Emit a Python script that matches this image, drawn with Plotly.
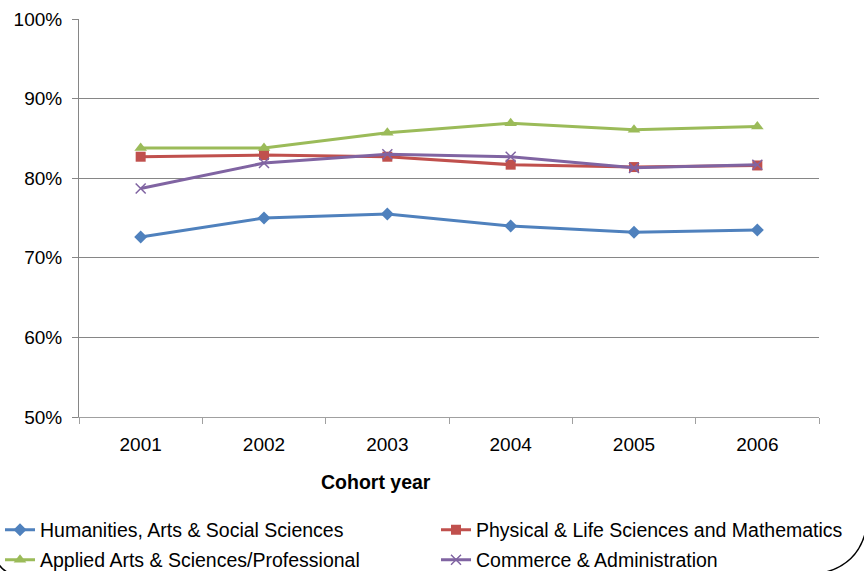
import plotly.graph_objects as go

# Cohort years on the category axis
years = ["2001", "2002", "2003", "2004", "2005", "2006"]

# Rate (%) per faculty group and cohort year
humanities = [72.6, 75.0, 75.5, 74.0, 73.2, 73.5]
physical_life = [82.7, 82.9, 82.7, 81.7, 81.4, 81.6]
applied_arts = [83.8, 83.8, 85.7, 86.9, 86.1, 86.5]
commerce = [78.7, 81.9, 83.0, 82.7, 81.3, 81.7]

series_names = [
    "Humanities, Arts & Social Sciences",
    "Physical & Life Sciences and Mathematics",
    "Applied Arts & Sciences/Professional",
    "Commerce & Administration",
]

y_ticks = [50, 60, 70, 80, 90, 100]
y_tick_labels = ["50%", "60%", "70%", "80%", "90%", "100%"]

W, H = 864, 571
ML, MR, MT, MB = 79, 45, 19, 154
PW, PH = W - ML - MR, H - MT - MB

FONT = "Liberation Sans, Arial, sans-serif"
GRID = "#868686"


def px_to_paper(px, py):
    return (px - ML) / PW, (H - MB - py) / PH


fig = go.Figure()

# one legend box per entry, laid out as a 2 x 2 block below the plot
legend_ids = ["legend", "legend2", "legend3", "legend4"]
legend_pos = [(0, 530), (436, 530), (0, 560), (436, 560)]

styles = [
    dict(color="#4F81BD", symbol="diamond", size=10),
    dict(color="#C0504D", symbol="square", size=10),
    dict(color="#9BBB59", symbol="triangle-up", size=11),
    dict(color="#8064A2", symbol="x-thin", size=10),
]
values = [humanities, physical_life, applied_arts, commerce]

for name, vals, st, lid in zip(series_names, values, styles, legend_ids):
    marker = dict(symbol=st["symbol"], size=st["size"], color=st["color"])
    if st["symbol"] == "x-thin":
        marker["line"] = dict(color=st["color"], width=1.5)
    fig.add_trace(
        go.Scatter(
            x=years,
            y=vals,
            name=name,
            mode="lines+markers",
            line=dict(color=st["color"], width=3),
            marker=marker,
            legend=lid,
            showlegend=True,
        )
    )


# Rounded outer frame, visible only at the bottom corners
def quad_path(p0, c, p1):
    a = px_to_paper(*p0)
    b = px_to_paper(*c)
    d = px_to_paper(*p1)
    return f"M {a[0]},{a[1]} Q {b[0]},{b[1]} {d[0]},{d[1]}"


shapes = [
    dict(type="path", xref="paper", yref="paper",
         path=quad_path((866, 530), (858, 565), (822, 573)),
         line=dict(color="black", width=1.5)),
    dict(type="path", xref="paper", yref="paper",
         path=quad_path((-2, 563), (2, 570), (9, 573)),
         line=dict(color="black", width=1.5)),
]

legends = {}
for lid, (lpx, lpy) in zip(legend_ids, legend_pos):
    lx, ly = px_to_paper(lpx, lpy)
    legends[lid] = dict(
        visible=True,
        x=lx, y=ly,
        orientation="h",
        xanchor="left",
        yanchor="middle",
        font=dict(family=FONT, size=19.5, color="black"),
        bgcolor="rgba(0,0,0,0)",
        borderwidth=0,
    )

# x-axis title, set left of the plot centre
tx, ty = px_to_paper(376, 482)
annotations = [
    dict(text="<b>Cohort year</b>", x=tx, y=ty, xref="paper", yref="paper",
         xanchor="center", yanchor="middle", showarrow=False,
         font=dict(family=FONT, size=19.5, color="black")),
]

fig.update_layout(
    width=W,
    height=H,
    showlegend=True,
    margin=dict(l=ML, r=MR, t=MT, b=MB, pad=0, autoexpand=False),
    paper_bgcolor="white",
    plot_bgcolor="white",
    font=dict(family=FONT, size=19, color="black"),
    shapes=shapes,
    annotations=annotations,
    xaxis=dict(
        type="category",
        range=[-0.5, len(years) - 0.5],
        showgrid=False,
        showline=True,
        linecolor="#A0A0A0",
        linewidth=1,
        ticks="outside",
        tickson="boundaries",
        ticklen=6,
        tickcolor="#A0A0A0",
        ticklabelstandoff=10,
        tickfont=dict(family=FONT, size=19, color="black"),
        fixedrange=True,
    ),
    yaxis=dict(
        range=[50, 100],
        tickvals=y_ticks,
        ticktext=y_tick_labels,
        showgrid=True,
        gridcolor=GRID,
        gridwidth=1,
        showline=True,
        linecolor=GRID,
        linewidth=1,
        ticks="outside",
        ticklen=6,
        tickcolor=GRID,
        ticklabelstandoff=6,
        tickfont=dict(family=FONT, size=19, color="black"),
        zeroline=False,
        fixedrange=True,
    ),
    **legends,
)

fig.write_html("out.html")
